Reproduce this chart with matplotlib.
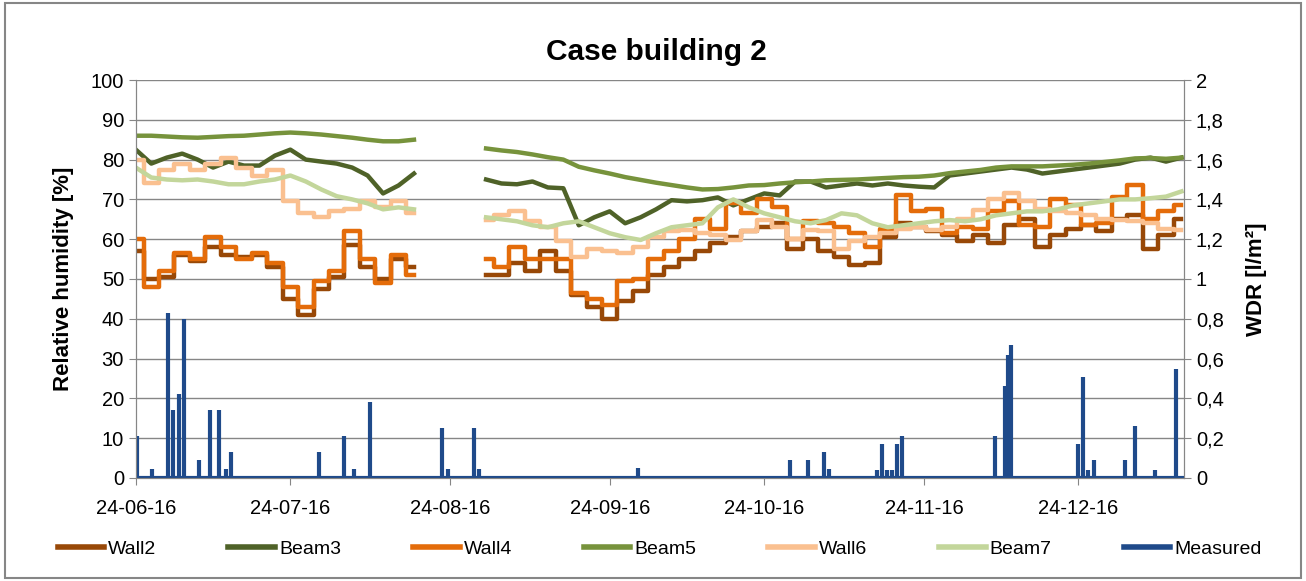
import matplotlib
matplotlib.use('Agg')
import matplotlib.pyplot as plt
import matplotlib.dates as mdates
from matplotlib.lines import Line2D
from matplotlib.ticker import FuncFormatter
import numpy as np
import pandas as pd

plt.rcParams['font.family'] = ['Liberation Sans', 'DejaVu Sans']

# sampling dates (every 3 days), before and after the logger gap
dates_a = pd.date_range('2016-06-24', periods=19, freq='3D')
dates_b = pd.date_range('2016-08-31', periods=46, freq='3D')

# relative humidity [%], first 19 values before the gap, 46 after
wall2 = [57.0, 50.0, 50.5, 56.0, 54.5, 58.0, 56.0, 55.5, 56.0, 53.0, 45.0, 41.0, 47.5, 50.5, 58.5, 53.0, 50.0, 55.0, 53.0,
         51.0, 51.0, 54.0, 52.0, 57.0, 52.0, 46.0, 43.0, 40.0, 44.5, 47.0, 51.0, 53.0, 55.0, 57.0, 59.0, 60.5, 62.0, 63.0, 64.0,
         57.5, 60.0, 57.0, 55.5, 53.5, 54.0, 60.5, 64.0, 63.0, 62.0, 61.0, 59.5, 61.0, 59.0, 63.5, 65.0, 58.0, 61.0, 62.5, 63.5,
         62.0, 65.0, 66.0, 57.5, 61.0, 65.0]
beam3 = [82.5, 79.0, 80.5, 81.5, 80.0, 78.0, 79.5, 78.5, 78.5, 81.0, 82.5, 80.0, 79.5, 79.0, 78.0, 76.0, 71.5, 73.5, 76.5,
         75.0, 74.0, 73.8, 74.5, 73.0, 72.8, 63.5, 65.5, 67.0, 64.0, 65.5, 67.5, 69.8, 69.5, 69.8, 70.5, 68.5, 70.0, 71.5, 71.0,
         74.5, 74.5, 73.0, 73.5, 74.0, 73.5, 74.0, 73.5, 73.2, 73.0, 76.0, 76.5, 77.0, 77.5, 78.0, 77.5, 76.5, 77.0, 77.5, 78.0,
         78.5, 79.0, 80.0, 80.5, 79.5, 80.5]
wall4 = [60.0, 48.0, 52.0, 56.5, 55.0, 60.5, 58.0, 55.0, 56.5, 54.0, 48.0, 43.0, 49.5, 52.0, 62.0, 55.0, 49.0, 56.0, 51.0,
         55.0, 53.0, 58.0, 55.0, 55.0, 55.0, 46.5, 45.0, 43.5, 49.5, 50.0, 55.0, 57.0, 60.0, 65.0, 62.5, 69.0, 66.5, 70.0, 68.0,
         60.0, 64.5, 64.0, 63.0, 61.5, 58.0, 62.5, 71.0, 67.0, 67.5, 61.5, 63.0, 62.5, 67.0, 69.5, 63.5, 63.0, 70.0, 68.5, 63.5,
         64.0, 70.5, 73.5, 65.0, 67.0, 68.5]
beam5 = [86.0, 86.0, 85.8, 85.6, 85.5, 85.7, 85.9, 86.0, 86.3, 86.6, 86.8, 86.6, 86.3, 85.9, 85.5, 85.0, 84.6, 84.6, 85.0,
         82.8, 82.3, 81.9, 81.3, 80.6, 80.0, 78.2, 77.3, 76.5, 75.6, 74.9, 74.2, 73.6, 73.0, 72.5, 72.6, 73.0, 73.5, 73.6, 74.0,
         74.3, 74.5, 74.8, 74.9, 75.0, 75.2, 75.4, 75.6, 75.7, 76.0, 76.6, 77.0, 77.4, 78.0, 78.3, 78.3, 78.3, 78.5, 78.7, 79.0,
         79.4, 79.8, 80.3, 80.4, 80.2, 80.5]
wall6 = [80.0, 74.0, 77.5, 79.0, 77.5, 79.0, 80.5, 78.0, 76.0, 77.5, 69.5, 66.5, 65.5, 67.0, 67.5, 69.5, 68.0, 69.5, 66.5,
         64.8, 66.0, 67.0, 64.5, 63.0, 59.5, 55.5, 57.5, 57.0, 56.5, 58.0, 60.5, 62.0, 62.3, 61.5, 61.0, 59.8, 62.0, 64.8, 63.0,
         60.0, 62.3, 62.0, 57.5, 59.5, 60.5, 61.5, 62.5, 63.0, 62.3, 63.0, 65.0, 67.3, 70.0, 71.5, 69.5, 67.5, 67.0, 66.5, 66.0,
         65.0, 64.8, 64.5, 64.0, 62.5, 62.3]
beam7 = [78.0, 75.5, 75.0, 74.8, 75.0, 74.5, 73.8, 73.8, 74.5, 75.0, 76.0, 74.5, 72.5, 70.8, 70.0, 69.0, 67.5, 68.0, 67.5,
         65.5, 65.0, 64.5, 63.5, 63.0, 64.0, 64.5, 63.0, 61.5, 60.5, 59.8, 61.5, 63.0, 63.5, 64.0, 68.0, 70.0, 68.0, 66.5, 65.5,
         64.5, 64.0, 64.8, 66.5, 66.0, 64.0, 63.0, 63.5, 64.0, 64.5, 64.8, 64.5, 65.0, 66.0, 66.5, 67.0, 67.0, 67.5, 68.5, 69.0,
         69.5, 70.0, 70.0, 70.3, 70.7, 72.0]

# measured wind-driven rain [l/m2]: day offset from 24-06-16 and amount
wdr_day = [0.2, 3.1, 6.2, 7.2, 8.3, 9.3, 12.2, 14.4, 16.1, 17.5, 18.4, 35.5, 40.4, 42.3, 45.4, 59.4, 60.6, 65.6, 66.6,
           97.5, 127.0, 130.5, 133.6, 134.6, 143.9, 144.9, 145.8, 146.8, 147.8, 148.7, 166.8, 168.7, 169.3, 169.9,
           182.9, 183.9, 184.9, 186.0, 192.0, 194.0, 197.9, 201.9]
wdr_val = [0.21, 0.045, 0.83, 0.34, 0.42, 0.80, 0.09, 0.34, 0.34, 0.045, 0.13, 0.13, 0.21, 0.045, 0.38, 0.25, 0.045, 0.25, 0.045,
           0.05, 0.09, 0.09, 0.13, 0.045, 0.04, 0.17, 0.04, 0.04, 0.17, 0.21, 0.21, 0.46, 0.62, 0.67,
           0.17, 0.51, 0.04, 0.09, 0.09, 0.26, 0.04, 0.55]

start = pd.Timestamp('2016-06-24')
end = pd.Timestamp('2017-01-13 12:00')
wdr_dates = start + pd.to_timedelta(wdr_day, unit='D')

series = [('Wall2', wall2, '#984807'), ('Beam3', beam3, '#4F6228'), ('Wall4', wall4, '#E46C0A'),
          ('Beam5', beam5, '#77933C'), ('Wall6', wall6, '#FAC090'), ('Beam7', beam7, '#C3D69B')]
blue = '#1F4A8A'

fig = plt.figure(figsize=(13.06, 5.81), dpi=100)
ax = fig.add_axes([0.104, 0.1773, 0.8026, 0.685])
n = len(dates_a)
handles = []
for name, vals, col in series:
    ds = 'steps-mid' if name.startswith('Wall') else 'default'
    ax.plot(dates_a, vals[:n], color=col, lw=3.2, drawstyle=ds)
    ax.plot(dates_b, vals[n:], color=col, lw=3.2, drawstyle=ds)
    handles.append(Line2D([], [], color=col, lw=4))

ax.set_ylim(0, 100)
ax.set_yticks(range(0, 101, 10))
ax.set_xlim(start, end)
ax.grid(axis='y', color='#868686', lw=1)
ax.set_axisbelow(True)
ax.xaxis.set_major_locator(mdates.MonthLocator(bymonthday=24))
ax.xaxis.set_major_formatter(mdates.DateFormatter('%d-%m-%y'))
ax.spines['top'].set_visible(False)
for s in ['left', 'right', 'bottom']:
    ax.spines[s].set_color('#868686')
ax.tick_params(axis='both', colors='#868686', labelcolor='black', labelsize=14.5, length=5)
ax.tick_params(axis='x', pad=10)
ax.set_ylabel('Relative humidity [%]', fontsize=16, fontweight='bold', labelpad=12)

ax2 = ax.twinx()
ax2.vlines(wdr_dates, 0, wdr_val, color=blue, lw=3)
ax2.plot([start, end], [0, 0], color=blue, lw=3)
handles.append(Line2D([], [], color=blue, lw=4))
ax2.set_ylim(0, 2)
ax2.set_yticks(np.round(np.arange(0, 2.01, 0.2), 1))
ax2.yaxis.set_major_formatter(FuncFormatter(lambda v, p: ('%g' % round(v, 1)).replace('.', ',')))
ax2.spines['top'].set_visible(False)
for s in ['left', 'right', 'bottom']:
    ax2.spines[s].set_color('#868686')
ax2.tick_params(axis='y', colors='#868686', labelcolor='black', labelsize=14.5, length=5)
ax2.set_ylabel('WDR [l/m²]', fontsize=16, fontweight='bold', labelpad=16)

fig.suptitle('Case building 2', x=0.503, y=0.935, fontsize=21.5, fontweight='bold')
fig.legend(handles, ['Wall2', 'Beam3', 'Wall4', 'Beam5', 'Wall6', 'Beam7', 'Measured'],
           loc='center', bbox_to_anchor=(0.505, 0.055), ncol=7, frameon=False, fontsize=14,
           handlelength=2.4, columnspacing=3.7, handletextpad=0.2)
fig.patches.append(plt.Rectangle((0.004, 0.006), 0.992, 0.988, transform=fig.transFigure,
                                 fill=False, edgecolor='#868686', lw=1.5))
fig.savefig('out.png', dpi=100)
